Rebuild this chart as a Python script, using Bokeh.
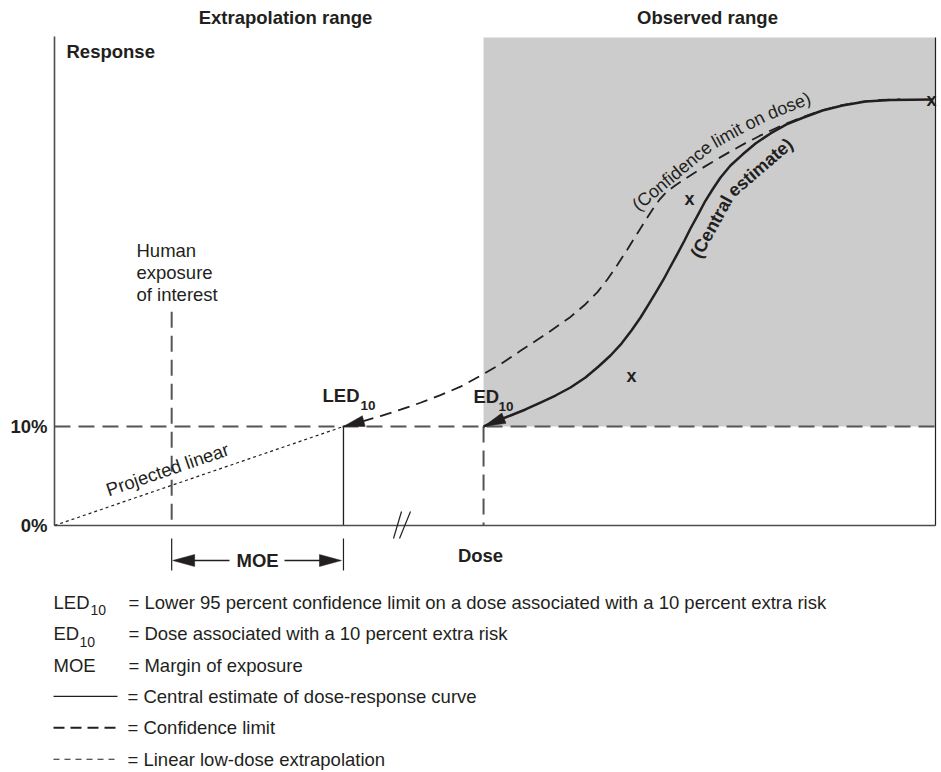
import numpy as np
from bokeh.plotting import figure
from bokeh.models import Range1d
from bokeh.core.properties import value
from bokeh.embed import file_html
from bokeh.resources import INLINE

# ---------------- data ----------------
# dose on a schematic linear scale (0 = origin, 100 = end of observed range); response in %
human_exposure_dose = 13.3
led10_dose = 32.8
ed10_dose = 48.7
bmr_response = 10.0
dose_axis_end = 100.0
response_axis_top = 49.4
human_line_top = 21.6

central_dose = [48.70, 50.06, 51.76, 53.46, 55.16, 56.87, 58.57, 60.27, 61.75, 63.11, 64.36,
                65.49, 66.52, 67.42, 68.33, 69.13, 69.92, 70.72, 71.51, 72.19, 72.99, 73.78,
                74.69, 75.60, 76.73, 78.09, 79.57, 81.27, 83.09, 85.02, 87.17, 89.44, 92.05,
                94.89, 99.66]
central_resp = [10.00, 10.51, 11.11, 11.72, 12.42, 13.13, 13.94, 14.95, 16.06, 17.17, 18.38,
                19.70, 21.01, 22.32, 23.64, 24.85, 26.16, 27.47, 28.79, 30.00, 31.31, 32.63,
                33.94, 35.15, 36.36, 37.47, 38.59, 39.60, 40.51, 41.21, 41.92, 42.42, 42.83,
                42.99, 43.03]

conf_dose = [32.80, 34.73, 37.00, 39.27, 41.54, 43.81, 46.08, 48.35, 50.62, 52.89, 55.73,
             58.57, 60.27, 61.63, 62.77, 63.90, 65.04, 66.17, 67.08, 67.88, 68.67, 69.47,
             70.37, 71.40, 72.53, 73.89, 75.26, 76.84, 78.43, 80.02, 81.61, 83.20, 84.68,
             86.95, 89.22, 91.49, 93.76, 96.03]
conf_resp = [10.00, 10.46, 11.05, 11.70, 12.40, 13.17, 14.02, 15.13, 16.30, 17.64, 19.30,
             21.07, 22.35, 23.57, 24.88, 26.34, 27.91, 29.53, 30.82, 31.92, 32.91, 33.69,
             34.29, 34.91, 35.56, 36.30, 37.03, 37.84, 38.62, 39.35, 40.03, 40.66, 41.18,
             41.89, 42.43, 42.78, 42.98, 43.04]

obs_dose = [65.49, 72.08, 99.55]
obs_resp = [15.15, 32.93, 43.03]

linear_dose = [0.0, led10_dose]
linear_resp = [0.0, bmr_response]

y_tick_values = [0, 10]
y_tick_labels = ["0%", "10%"]

legend_symbols = ["LED", "ED", "MOE"]
legend_subs = ["10", "10", ""]
legend_texts = [
    "= Lower 95 percent confidence limit on a dose associated with a 10 percent extra risk",
    "= Dose associated with a 10 percent extra risk",
    "= Margin of exposure",
    "= Central estimate of dose-response curve",
    "= Confidence limit",
    "= Linear low-dose extrapolation",
]

# ---------------- layout ----------------
OFF, W, H = 0, 938, 770
X0, SX = 54.0, 8.81      # px of dose 0, px per dose unit
Y0, SY = 525.0, 9.9      # px of 0 %, px per % response
TXT = "#231f20"
GRID = "#555555"
FONT = value("Liberation Sans")
FS = 18.5


def dX(px):
    return (np.asarray(px, dtype=float) - X0) / SX


def dY(py):
    return (Y0 - np.asarray(py, dtype=float)) / SY


def pX(d):
    return X0 + np.asarray(d, dtype=float) * SX


def pY(r):
    return Y0 - np.asarray(r, dtype=float) * SY


p = figure(width=W, height=H, output_backend="svg", toolbar_location=None,
           x_range=Range1d(float(dX(OFF)), float(dX(OFF + W))),
           y_range=Range1d(float(dY(OFF + H)), float(dY(OFF))),
           x_axis_type=None, y_axis_type=None, min_border=0,
           outline_line_color=None, background_fill_color="white",
           border_fill_color="white")


def txt(xp, yp, s, size=FS, bold=False, align="left", angle=0.0, color=TXT, baseline="middle"):
    p.text(x=[float(dX(xp))], y=[float(dY(yp))], text=[s], text_font=FONT,
           text_font_size=f"{size}px", text_font_style="bold" if bold else "normal",
           text_color=color, text_align=align, text_baseline=baseline,
           angle=angle, angle_units="rad")


def head(tip, frm, length, width):
    ux, uy = tip[0] - frm[0], tip[1] - frm[1]
    n = np.hypot(ux, uy)
    ux, uy = ux / n, uy / n
    bx, by = tip[0] - ux * length, tip[1] - uy * length
    nx, ny = -uy, ux
    xs = [tip[0], bx + nx * width / 2, bx - nx * width / 2]
    ys = [tip[1], by + ny * width / 2, by - ny * width / 2]
    p.patch(list(dX(xs)), list(dY(ys)), fill_color=TXT, line_color=TXT, line_width=0.5)


# ---- shaded observed range ----
p.quad(left=[ed10_dose], right=[dose_axis_end], bottom=[bmr_response], top=[response_axis_top - 0.1],
       fill_color="#cccccc", line_color=None)

# ---- reference lines ----
p.line([0, dose_axis_end], [bmr_response, bmr_response], line_color=GRID, line_width=2, line_dash="16 8")
p.line([human_exposure_dose, human_exposure_dose], [human_line_top, 0], line_color=GRID,
       line_width=2, line_dash="16 8")
p.line([ed10_dose, ed10_dose], [bmr_response, 0], line_color=GRID, line_width=2, line_dash="16 8")
p.line([led10_dose, led10_dose], [bmr_response, 0], line_color=TXT, line_width=1.3)

# ---- axes ----
p.line([0, 0], [0, response_axis_top], line_color="#4d4d4d", line_width=1.6)
p.line([0, dose_axis_end], [0, 0], line_color="#4d4d4d", line_width=1.6)
p.line([dose_axis_end, dose_axis_end], [0, response_axis_top - 0.1], line_color=TXT, line_width=1.2)

# axis break marks
for top_x, bot_x in [(401, 393), (410, 399)]:
    p.line(list(dX([top_x, bot_x])), list(dY([511, 538])), line_color=TXT, line_width=1.2)

# ---- curves ----
p.line(linear_dose, linear_resp, line_color=TXT, line_width=1.2, line_dash="3 3")
p.line(conf_dose, conf_resp, line_color=TXT, line_width=1.8, line_dash="12 7")
p.line(central_dose, central_resp, line_color=TXT, line_width=2.5, line_join="round")

# arrowheads at LED10 and ED10
head((float(pX(conf_dose[0])), float(pY(conf_resp[0]))),
     (float(pX(conf_dose[1])), float(pY(conf_resp[1]))), 21, 11)
head((float(pX(central_dose[0])), float(pY(central_resp[0]))),
     (float(pX(central_dose[2])), float(pY(central_resp[2]))), 22, 11)

# observations
p.text(x=obs_dose, y=obs_resp, text=["x"] * len(obs_dose), text_font=FONT, text_font_size="18px",
       text_font_style="bold", text_color=TXT, text_align="center", text_baseline="middle")

# ---- MOE bracket ----
hx, lx = float(pX(human_exposure_dose)), float(pX(led10_dose))
for xx in (hx, lx):
    p.line(list(dX([xx, xx])), list(dY([538, 570])), line_color=TXT, line_width=1.2)
p.line(list(dX([hx + 10, 229])), list(dY([560, 560])), line_color=TXT, line_width=1.5)
p.line(list(dX([284, lx - 10])), list(dY([560, 560])), line_color=TXT, line_width=1.5)
head((hx + 1, 560), (hx + 30, 560), 22, 12)
head((lx - 2, 560), (lx - 30, 560), 22, 12)
txt((hx + lx) / 2, 560, "MOE", bold=True, align="center")

# ---- labels ----
txt(285, 17, "Extrapolation range", bold=True, align="center")
txt(707, 17, "Observed range", bold=True, align="center")
txt(66, 51, "Response", bold=True)
for v, lab in zip(y_tick_values, y_tick_labels):
    txt(47, float(pY(v)), lab, bold=True, align="right")
txt(480, 555, "Dose", bold=True, align="center")
for i, line in enumerate(["Human", "exposure", "of interest"]):
    txt(136, 250 + 22 * i, line)

txt(322, 395, "LED", bold=True)
txt(360, 405, "10", size=13.5, bold=True)
txt(473, 396, "ED", bold=True)
txt(498, 406, "10", size=13.5, bold=True)

ang_lin = np.arctan2(float(pY(0) - pY(bmr_response)), float(pX(led10_dose) - pX(0)))
txt(167, 469, "Projected linear", angle=ang_lin, align="center")

# ---- text following curves ----
REG = {' ': 278, '(': 333, ')': 333, 'C': 722, 'o': 556, 'n': 556, 'f': 278, 'i': 222, 'd': 556,
       'e': 556, 'c': 500, 'l': 222, 'm': 833, 't': 278, 's': 500}
BLD = {' ': 278, '(': 333, ')': 333, 'C': 722, 'e': 556, 'n': 611, 't': 333, 'r': 389, 'a': 556,
       'l': 278, 's': 556, 'i': 278, 'm': 889}


def curve_words(s, dose, resp, offset, anchor, size, table, bold):
    P = np.column_stack([pX(dose), pY(resp)])
    seg = np.diff(P, axis=0)
    seg /= np.linalg.norm(seg, axis=1)[:, None]
    segN = np.column_stack([seg[:, 1], -seg[:, 0]])
    vN = np.vstack([segN[:1], (segN[:-1] + segN[1:]) / 2, segN[-1:]])
    vN /= np.linalg.norm(vN, axis=1)[:, None]
    Q = P + vN * offset
    L = np.concatenate([[0], np.cumsum(np.linalg.norm(np.diff(Q, axis=0), axis=1))])

    def at(t):
        return np.interp(t, L, Q[:, 0]), np.interp(t, L, Q[:, 1])

    ss = np.linspace(0, L[-1], 3000)
    qx, qy = at(ss)
    cur = ss[np.argmin((qx - anchor[0]) ** 2 + (qy - anchor[1]) ** 2)]
    wsp = table[' '] / 1000 * size
    for w in s.split(" "):
        wl = sum(table.get(c, 556) for c in w) / 1000 * size
        x1, y1 = at(cur)
        x2, y2 = at(cur + wl)
        ang = np.arctan2(-(y2 - y1), x2 - x1)
        txt((x1 + x2) / 2, (y1 + y2) / 2, w, size=size, bold=bold, align="center", angle=float(ang))
        cur += wl + wsp


curve_words("(Confidence limit on dose)", conf_dose, conf_resp, 16, (636, 207), 18, REG, False)
curve_words("(Central estimate)", central_dose, central_resp, -17, (700, 259), 18, BLD, True)

# ---- legend ----
rows = [601.7 + 31.4 * i for i in range(6)]
sub_x = [90, 79]
for i, sym in enumerate(legend_symbols):
    txt(53, rows[i], sym)
    if legend_subs[i]:
        txt(sub_x[i], rows[i] + 8, legend_subs[i], size=14)
for i, t in enumerate(legend_texts):
    txt(128 if i < 3 else 127, rows[i], t)
p.line(list(dX([53, 117])), list(dY([rows[3], rows[3]])), line_color=TXT, line_width=1.2)
p.line(list(dX([53, 117])), list(dY([rows[4], rows[4]])), line_color=TXT, line_width=2, line_dash="11 6")
p.line(list(dX([53, 117])), list(dY([rows[5], rows[5]])), line_color=TXT, line_width=1.1, line_dash="6 5")

open("out.html", "w").write(file_html(p, INLINE))
